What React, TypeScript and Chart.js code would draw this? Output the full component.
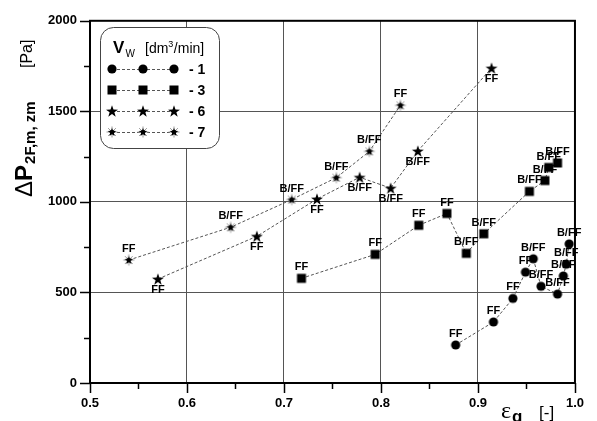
import React, { useEffect, useRef } from "react";
import { Chart, registerables } from "chart.js";

Chart.register(...registerables);

// ---------- axes ----------
const X_MIN = 0.5;
const X_MAX = 1.0;
const X_STEP = 0.05;
const Y_MIN = 0;
const Y_MAX = 2000;
const Y_STEP = 250;

// ---------- series (epsilon_g [-], dP [Pa], regime label) ----------
const seriesNames = ["- 1", "- 3", "- 6", "- 7"];
const seriesMarkers = ["circle", "square", "star", "asterisk"];
const labelBelow = [false, false, true, false];

const s1Eps = [0.877, 0.916, 0.936, 0.949, 0.957, 0.965, 0.982, 0.988, 0.991, 0.994];
const s1Dp = [210, 337, 467, 612, 686, 534, 491, 591, 656, 768];
const s1Regime = ["FF", "FF", "FF", "FF", "B/FF", "B/FF", "B/FF", "B/FF", "B/FF", "B/FF"];

const s3Eps = [0.718, 0.794, 0.839, 0.868, 0.888, 0.906, 0.953, 0.969, 0.973, 0.982];
const s3Dp = [578, 710, 871, 936, 716, 824, 1058, 1118, 1190, 1215];
const s3Regime = ["FF", "FF", "FF", "FF", "B/FF", "B/FF", "B/FF", "B/FF", "B/FF", "B/FF"];

const s6Eps = [0.57, 0.672, 0.734, 0.778, 0.81, 0.838, 0.914];
const s6Dp = [574, 810, 1016, 1136, 1076, 1281, 1739];
const s6Regime = ["FF", "FF", "FF", "B/FF", "B/FF", "B/FF", "FF"];

const s7Eps = [0.54, 0.645, 0.708, 0.754, 0.788, 0.82];
const s7Dp = [679, 860, 1013, 1134, 1279, 1533];
const s7Regime = ["FF", "B/FF", "B/FF", "B/FF", "B/FF", "FF"];

const allEps = [s1Eps, s3Eps, s6Eps, s7Eps];
const allDp = [s1Dp, s3Dp, s6Dp, s7Dp];
const allRegime = [s1Regime, s3Regime, s6Regime, s7Regime];

const SANS = "'Liberation Sans', Arial, sans-serif";
const SERIF = "'Liberation Serif', 'Times New Roman', serif";
const LINE_COLOR = "#555";
const GRID_COLOR = "#555";

const isMajorX = (v: number) => Math.round(v * 100) % 10 === 0;
const isMajorY = (v: number) => Math.round(v) % 500 === 0;

function drawStar(g: CanvasRenderingContext2D, cx: number, cy: number, outer: number, inner: number) {
  g.beginPath();
  for (let i = 0; i < 10; i++) {
    const r = i % 2 === 0 ? outer : inner;
    const a = -Math.PI / 2 + (i * Math.PI) / 5;
    const px = cx + r * Math.cos(a);
    const py = cy + r * Math.sin(a);
    if (i === 0) g.moveTo(px, py);
    else g.lineTo(px, py);
  }
  g.closePath();
  g.fill();
}

function makeMarker(kind: string): HTMLCanvasElement {
  const c = document.createElement("canvas");
  c.width = 16;
  c.height = 16;
  const g = c.getContext("2d")!;
  g.fillStyle = "#000";
  if (kind === "circle") {
    g.beginPath();
    g.arc(8, 8, 4.6, 0, Math.PI * 2);
    g.fill();
  } else if (kind === "square") {
    g.fillRect(3.5, 3.5, 9, 9);
  } else if (kind === "star") {
    drawStar(g, 8, 8.6, 6.3, 2.5);
  } else {
    g.strokeStyle = "#999";
    g.lineWidth = 1;
    for (let i = 0; i < 8; i++) {
      const a = (i * Math.PI) / 4;
      g.beginPath();
      g.moveTo(8, 8);
      g.lineTo(8 + 5.5 * Math.cos(a), 8 + 5.5 * Math.sin(a));
      g.stroke();
    }
    drawStar(g, 8, 8.4, 4.4, 1.9);
    g.fillRect(6.2, 6.2, 3.6, 3.6);
  }
  return c;
}

export default function App() {
  const ref = useRef<HTMLCanvasElement | null>(null);

  useEffect(() => {
    document.body.style.margin = "0";
    const canvas = ref.current;
    if (!canvas) return;
    const markers = seriesMarkers.map((k) => makeMarker(k));

    const datasets = allEps.map((xs, si) => ({
      label: seriesNames[si],
      data: xs.map((x, i) => ({ x, y: allDp[si][i] })),
      borderColor: LINE_COLOR,
      borderWidth: 1,
      borderDash: [3, 2],
      pointStyle: markers[si],
      pointRadius: 5,
      pointHoverRadius: 5,
      tension: 0,
      fill: false,
    }));

    const decor = {
      id: "decor",
      afterDraw(chart: any) {
        const ctx: CanvasRenderingContext2D = chart.ctx;
        const { left, right, top, bottom } = chart.chartArea;
        const xs = chart.scales.x;
        const ys = chart.scales.y;
        ctx.save();

        // frame
        ctx.strokeStyle = "#000";
        ctx.lineWidth = 2;
        ctx.strokeRect(left, top, right - left, bottom - top);

        // tick marks
        ctx.lineWidth = 1.5;
        xs.ticks.forEach((t: any) => {
          const px = Math.round(xs.getPixelForValue(t.value)) + 0.5;
          ctx.beginPath();
          ctx.moveTo(px, bottom);
          ctx.lineTo(px, bottom + (isMajorX(t.value) ? 10 : 6));
          ctx.stroke();
        });
        ys.ticks.forEach((t: any) => {
          const py = Math.round(ys.getPixelForValue(t.value)) + 0.5;
          ctx.beginPath();
          ctx.moveTo(left, py);
          ctx.lineTo(left - (isMajorY(t.value) ? 10 : 6), py);
          ctx.stroke();
        });

        // point labels
        ctx.fillStyle = "#000";
        ctx.font = `bold 11px ${SANS}`;
        ctx.textAlign = "center";
        ctx.textBaseline = "middle";
        chart.data.datasets.forEach((_: any, di: number) => {
          const meta = chart.getDatasetMeta(di);
          meta.data.forEach((el: any, i: number) => {
            const off = labelBelow[di] ? 11 : -11;
            ctx.fillText(allRegime[di][i], el.x, el.y + off);
          });
        });

        // legend box
        const bx = 100, by = 27, bw = 119, bh = 121, br = 13;
        ctx.beginPath();
        ctx.roundRect(bx + 0.5, by + 0.5, bw, bh, br);
        ctx.fillStyle = "#fff";
        ctx.fill();
        ctx.strokeStyle = "#444";
        ctx.lineWidth = 1;
        ctx.stroke();

        ctx.fillStyle = "#000";
        ctx.textAlign = "left";
        ctx.textBaseline = "alphabetic";
        ctx.font = `bold 17px ${SANS}`;
        ctx.fillText("V", 113, 53);
        ctx.font = `10px ${SANS}`;
        ctx.fillText("W", 125.5, 57);
        ctx.font = `14px ${SANS}`;
        ctx.fillText("[dm", 145, 53);
        const w = ctx.measureText("[dm").width;
        ctx.font = `9px ${SANS}`;
        ctx.fillText("3", 145 + w, 47);
        const w3 = ctx.measureText("3").width;
        ctx.font = `14px ${SANS}`;
        ctx.fillText("/min]", 145 + w + w3 + 0.5, 53);

        const rowsY = [69, 90, 111, 132];
        const mx = [112, 143, 174];
        rowsY.forEach((ry, si) => {
          ctx.save();
          ctx.strokeStyle = LINE_COLOR;
          ctx.lineWidth = 1;
          ctx.setLineDash([3, 2]);
          ctx.beginPath();
          ctx.moveTo(mx[0], ry + 0.5);
          ctx.lineTo(mx[2], ry + 0.5);
          ctx.stroke();
          ctx.restore();
          const m = markers[si];
          mx.forEach((x) => ctx.drawImage(m, x - m.width / 2, ry - m.height / 2));
          ctx.font = `bold 14px ${SANS}`;
          ctx.fillStyle = "#000";
          ctx.textBaseline = "middle";
          ctx.fillText(seriesNames[si], 189, ry + 1);
          ctx.textBaseline = "alphabetic";
        });

        // y axis title (rotated)
        ctx.save();
        ctx.translate(32, 197);
        ctx.rotate(-Math.PI / 2);
        ctx.textAlign = "left";
        ctx.textBaseline = "alphabetic";
        ctx.font = `24px ${SANS}`;
        ctx.fillText("\u0394", 0, 0);
        let cx = ctx.measureText("\u0394").width;
        ctx.font = `bold 24px ${SANS}`;
        ctx.fillText("P", cx, 0);
        cx += ctx.measureText("P").width + 1;
        ctx.font = `bold 15px ${SANS}`;
        ctx.fillText("2F,m, zm", cx, 3);
        ctx.font = `16px ${SANS}`;
        ctx.fillText("[Pa]", 129, 0);
        ctx.restore();

        // x axis title
        ctx.textAlign = "left";
        ctx.font = `24px ${SERIF}`;
        ctx.fillText("\u03b5", 501, 418);
        ctx.font = `bold 17px ${SANS}`;
        ctx.fillText("g", 512, 422);
        ctx.font = `17px ${SANS}`;
        ctx.fillText("[-]", 539, 418);

        ctx.restore();
      },
    };

    const chart = new Chart(canvas, {
      type: "line",
      data: { datasets },
      options: {
        animation: false,
        responsive: false,
        devicePixelRatio: 1,
        layout: { padding: { top: 15, right: 18, left: 0, bottom: 0 } },
        plugins: { legend: { display: false }, tooltip: { enabled: false } },
        scales: {
          x: {
            type: "linear",
            min: X_MIN,
            max: X_MAX,
            afterFit: (s: any) => {
              s.height = 38;
            },
            ticks: {
              stepSize: X_STEP,
              autoSkip: false,
              maxRotation: 0,
              padding: 13,
              color: "#000",
              font: { family: SANS, size: 13, weight: "bold" },
              callback: (v: any) => (isMajorX(Number(v)) ? Number(v).toFixed(1) : ""),
            },
            grid: {
              drawTicks: false,
              lineWidth: 1,
              color: (c: any) => (c.tick && isMajorX(c.tick.value) ? GRID_COLOR : "rgba(0,0,0,0)"),
            },
            border: { display: true, color: "#000", width: 2 },
          },
          y: {
            type: "linear",
            min: Y_MIN,
            max: Y_MAX,
            afterFit: (s: any) => {
              s.width = 90;
            },
            ticks: {
              stepSize: Y_STEP,
              autoSkip: false,
              padding: 13,
              color: "#000",
              font: { family: SANS, size: 13, weight: "bold" },
              callback: (v: any) => (isMajorY(Number(v)) ? String(Math.round(Number(v))) : ""),
            },
            grid: {
              drawTicks: false,
              lineWidth: 1,
              color: (c: any) => (c.tick && isMajorY(c.tick.value) ? GRID_COLOR : "rgba(0,0,0,0)"),
            },
            border: { display: true, color: "#000", width: 2 },
          },
        },
      },
      plugins: [decor],
    } as any);

    return () => chart.destroy();
  }, []);

  return (
    <div style={{ width: 597, height: 421, background: "#fff" }}>
      <canvas ref={ref} width={597} height={421} style={{ display: "block", width: 597, height: 421 }} />
    </div>
  );
}
